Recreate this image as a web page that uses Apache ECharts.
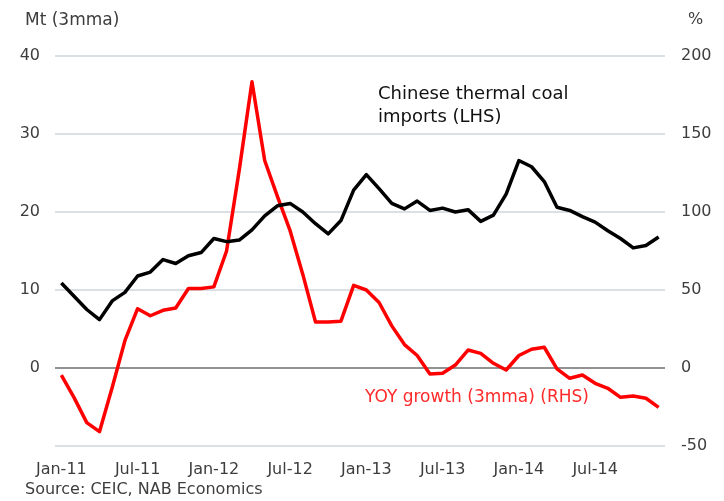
<!DOCTYPE html>
<html>
<head>
<meta charset="utf-8">
<script src="https://cdn.jsdelivr.net/npm/echarts@6/dist/echarts.min.js"></script>
<style>
  html, body { margin: 0; padding: 0; background: #fff; }
  #chart { width: 724px; height: 501px; }
</style>
</head>
<body>
<div id="chart"></div>
<script>
// Monthly categories Jan-11 .. Dec-14
const months = ['Jan','Feb','Mar','Apr','May','Jun','Jul','Aug','Sep','Oct','Nov','Dec'];
const years = ['11','12','13','14'];
const categories = [];
years.forEach(y => months.forEach(m => categories.push(m + '-' + y)));

// Chinese thermal coal imports, Mt (3mma), left axis
const importsMt = [
  10.9, 9.2, 7.5, 6.2, 8.6, 9.7, 11.8, 12.3, 13.9, 13.4, 14.4, 14.8,
  16.6, 16.2, 16.4, 17.7, 19.5, 20.8, 21.1, 20.0, 18.5, 17.2, 18.9, 22.8,
  24.8, 23.0, 21.1, 20.4, 21.4, 20.2, 20.5, 20.0, 20.3, 18.8, 19.6, 22.3,
  26.6, 25.8, 23.9, 20.6, 20.2, 19.4, 18.7, 17.6, 16.6, 15.4, 15.7, 16.8
];

// YOY growth (3mma), %, right axis
const yoyGrowth = [
  -4.5, -19, -35, -40.8, -12.5, 17.5, 38, 33.5, 37, 38.5, 51, 51,
  52, 75, 127, 183.5, 133, 110, 88, 60, 29.5, 29.5, 30, 53,
  50, 42, 27, 15, 8, -3.8, -3.4, 1.9, 11.5, 9.4, 3, -1.3,
  8, 12, 13.3, -0.5, -6.6, -4.5, -9.8, -13, -18.8, -18, -19.4, -25.2
];

// Axis ranges and ticks
const leftMin = -10, leftMax = 40, leftStep = 10;
const rightMin = -50, rightMax = 200, rightStep = 50;
const xLabelEvery = 6;

const FONT = '"DejaVu Sans", "Open Sans", sans-serif';
const TEXT = '#3d3d3d';
const GRID = '#cfd6db';
const ZERO = '#6e6e6e';

// split line colours: darker line for the zero level
const splitColours = [];
for (let v = leftMin; v <= leftMax; v += leftStep) splitColours.push(v === 0 ? ZERO : GRID);

const chart = echarts.init(document.getElementById('chart'), null, { renderer: 'canvas' });

chart.setOption({
  animation: false,
  backgroundColor: '#fff',
  grid: { left: 55, right: 59, top: 56, bottom: 55, containLabel: false },
  xAxis: {
    type: 'category',
    data: categories,
    boundaryGap: true,
    axisLine: { show: false },
    axisTick: { show: false },
    axisLabel: {
      interval: xLabelEvery - 1,
      color: TEXT,
      fontFamily: FONT,
      fontSize: 16,
      margin: 16
    },
    splitLine: { show: false }
  },
  yAxis: [
    {
      type: 'value',
      min: leftMin, max: leftMax, interval: leftStep,
      axisLine: { show: false },
      axisTick: { show: false },
      axisLabel: {
        color: TEXT, fontFamily: FONT, fontSize: 16, margin: 15,
        formatter: v => (v === leftMin ? '' : String(v))
      },
      splitLine: { show: true, lineStyle: { color: splitColours, width: 1.5 } }
    },
    {
      type: 'value',
      min: rightMin, max: rightMax, interval: rightStep,
      position: 'right',
      axisLine: { show: false },
      axisTick: { show: false },
      axisLabel: { color: TEXT, fontFamily: FONT, fontSize: 16, margin: 16 },
      splitLine: { show: false }
    }
  ],
  series: [
    {
      name: 'Chinese thermal coal imports (LHS)',
      type: 'line',
      yAxisIndex: 0,
      data: importsMt,
      symbol: 'none',
      lineStyle: { color: '#000', width: 3.5, join: 'round' },
      z: 3
    },
    {
      name: 'YOY growth (3mma) (RHS)',
      type: 'line',
      yAxisIndex: 1,
      data: yoyGrowth,
      symbol: 'none',
      lineStyle: { color: '#ff0000', width: 3.5, join: 'round' },
      z: 2
    }
  ],
  graphic: [
    { type: 'text', left: 25, top: 12, style: { text: 'Mt (3mma)', fill: TEXT, font: '17px ' + FONT } },
    { type: 'text', left: 688, top: 12, style: { text: '%', fill: TEXT, font: '16px ' + FONT } },
    { type: 'text', left: 378, top: 83, style: { text: 'Chinese thermal coal\nimports (LHS)', fill: '#111', font: '18px ' + FONT, lineHeight: 23 } },
    { type: 'text', left: 365, top: 389, style: { text: 'YOY growth (3mma) (RHS)', fill: '#ff2a2a', font: '17px ' + FONT } },
    { type: 'text', left: 25, top: 482, style: { text: 'Source: CEIC, NAB Economics', fill: TEXT, font: '16px ' + FONT } }
  ]
});
</script>
</body>
</html>
